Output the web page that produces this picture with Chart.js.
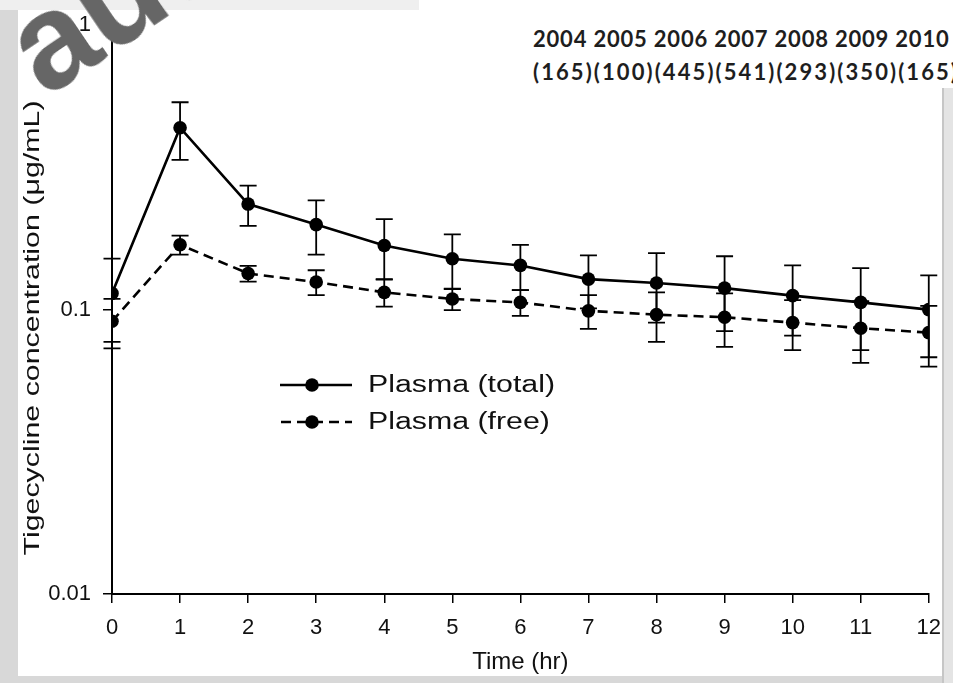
<!DOCTYPE html>
<html>
<head>
<meta charset="utf-8">
<script src="https://cdn.jsdelivr.net/npm/chart.js@4.4.1/dist/chart.umd.min.js"></script>
<style>
    html, body { margin: 0; padding: 0; }
    body { width: 953px; height: 683px; position: relative; overflow: hidden; background: #d8d8d8; }
    #paper { position: absolute; left: 18px; top: 10px; width: 924px; height: 666px; background: #fff; }
    #topband { position: absolute; left: 0; top: 0; width: 419px; height: 10px; background: #efefef; }
    #rightstrip { position: absolute; left: 942px; top: 0; width: 11px; height: 683px; background: #e4e4e4; border-left: 2px solid #c6c6c6; box-sizing: border-box; }
    #chartbox { position: absolute; left: 0; top: 0; width: 953px; height: 683px; }
    #overlay { position: absolute; left: 419px; top: 0; width: 534px; height: 88px; background: #fff; overflow: hidden;
               font-family: Lato, "Open Sans", sans-serif; font-weight: bold; font-size: 22px; color: #1e1e1e; }
    #overlay .row { position: absolute; left: 114px; white-space: nowrap; }
    #watermark { position: absolute; left: 0; top: 0; transform-origin: 0 0; transform: translate(50px, 105px) rotate(-34deg) translateY(-0.9em);
                 font-family: "Liberation Sans", Arial, sans-serif; font-weight: bold; font-size: 135px; line-height: 1;
                 color: #666; white-space: nowrap; }
</style>
</head>
<body>
<div id="paper"></div>
<div id="topband"></div>
<div id="rightstrip"></div>
<div id="chartbox"><canvas id="pkChart" width="953" height="683"></canvas></div>
<div id="overlay">
    <div class="row" style="top:25px; letter-spacing: 0.8px; word-spacing: 0px;">2004 2005 2006 2007 2008 2009 2010</div>
    <div class="row" style="top:58px; letter-spacing: 2.1px;">(165)(100)(445)(541)(293)(350)(165)</div>
</div>
<div id="watermark">authorized</div>

<script>
// sampling times (hr)
const hours = [0, 1, 2, 3, 4, 5, 6, 7, 8, 9, 10, 11, 12];

// Plasma (total) mean and SD, ug/mL
const totalMean = [0.114, 0.436, 0.235, 0.199, 0.168, 0.151, 0.143, 0.128, 0.124, 0.119, 0.112, 0.106, 0.100];
const totalSD   = [0.037, 0.100, 0.038, 0.043, 0.040, 0.033, 0.026, 0.027, 0.034, 0.035, 0.031, 0.034, 0.032];

// Plasma (free) mean and SD, ug/mL
const freeMean = [0.091, 0.169, 0.134, 0.125, 0.115, 0.109, 0.106, 0.099, 0.096, 0.094, 0.090, 0.086, 0.083];
const freeSD   = [0.018, 0.013, 0.0085, 0.0125, 0.0125, 0.0095, 0.011, 0.0135, 0.019, 0.020, 0.018, 0.021, 0.020];

const yTickValues = [0.01, 0.1, 1];
const seriesLabels = ['Plasma (total)', 'Plasma (free)'];

const FONT = '"Liberation Sans", Arial, sans-serif';

function toPoints(means) {
    return hours.map((h, i) => ({ x: h, y: means[i] }));
}

// error bars drawn under the lines, through the chart scales
const errorBarPlugin = {
    id: 'errorBars',
    beforeDatasetsDraw(chart) {
        const { ctx, scales: { x, y } } = chart;
        const sds = [totalSD, freeSD];
        ctx.save();
        ctx.strokeStyle = '#000';
        ctx.lineWidth = 1.8;
        chart.data.datasets.forEach((ds, di) => {
            ds.data.forEach((p, i) => {
                const px = x.getPixelForValue(p.x);
                const top = y.getPixelForValue(p.y + sds[di][i]);
                const bot = y.getPixelForValue(p.y - sds[di][i]);
                ctx.beginPath();
                ctx.moveTo(px, top); ctx.lineTo(px, bot);
                ctx.moveTo(px - 8.5, top); ctx.lineTo(px + 8.5, top);
                ctx.moveTo(px - 8.5, bot); ctx.lineTo(px + 8.5, bot);
                ctx.stroke();
            });
        });
        ctx.restore();
    }
};

// y title and in-plot legend (the original text is stretched wide)
const decorPlugin = {
    id: 'decor',
    afterDraw(chart) {
        const { ctx } = chart;
        ctx.save();
        ctx.fillStyle = '#111';
        ctx.textBaseline = 'middle';

        // y axis title
        const yTitle = 'Tigecycline concentration (\u03bcg/mL)';
        ctx.font = '22px ' + FONT;
        const tw = ctx.measureText(yTitle).width;
        ctx.save();
        ctx.translate(33, 328);
        ctx.rotate(-Math.PI / 2);
        ctx.scale(455 / tw, 1);
        ctx.textAlign = 'center';
        ctx.fillText(yTitle, 0, 0);
        ctx.restore();

        // legend
        ctx.font = '23px ' + FONT;
        const lw = ctx.measureText(seriesLabels[0]).width;
        const stretch = 187 / lw;
        const rows = [385, 422];
        rows.forEach((ry, i) => {
            ctx.strokeStyle = '#000';
            ctx.lineWidth = 2.6;
            ctx.setLineDash(i === 0 ? [] : [10, 6]);
            ctx.beginPath();
            ctx.moveTo(i === 0 ? 280 : 281, ry);
            ctx.lineTo(352, ry);
            ctx.stroke();
            ctx.setLineDash([]);
            ctx.fillStyle = '#000';
            ctx.beginPath();
            ctx.arc(312, ry, 6.8, 0, Math.PI * 2);
            ctx.fill();
            ctx.save();
            ctx.translate(368, ry + 1);
            ctx.scale(stretch, 1);
            ctx.fillStyle = '#111';
            ctx.textAlign = 'left';
            ctx.fillText(seriesLabels[i], 0, 0);
            ctx.restore();
        });
        ctx.restore();
    }
};

const chart = new Chart(document.getElementById('pkChart'), {
    type: 'line',
    data: {
        datasets: [
            {
                label: seriesLabels[0],
                data: toPoints(totalMean),
                borderColor: '#000',
                backgroundColor: '#000',
                borderWidth: 2.6,
                pointRadius: 6.8,
                pointHoverRadius: 6.8,
                pointBorderWidth: 0,
                tension: 0
            },
            {
                label: seriesLabels[1],
                data: toPoints(freeMean),
                borderColor: '#000',
                backgroundColor: '#000',
                borderWidth: 2.6,
                borderDash: [10, 6],
                pointRadius: 6.8,
                pointHoverRadius: 6.8,
                pointBorderWidth: 0,
                tension: 0
            }
        ]
    },
    options: {
        responsive: false,
        animation: false,
        layout: { padding: { left: 0, top: 20, right: 21, bottom: 0 } },
        plugins: {
            legend: { display: false },
            tooltip: { enabled: false }
        },
        scales: {
            x: {
                type: 'linear',
                min: 0,
                max: 12,
                afterFit: (scale) => { scale.height = 89; },
                ticks: { stepSize: 1, color: '#111', padding: 12, font: { family: FONT, size: 22 } },
                grid: { display: true, drawOnChartArea: false, drawTicks: true, tickLength: 9, color: '#000', lineWidth: 1.5 },
                border: { display: true, color: '#000', width: 2 },
                title: { display: true, text: 'Time (hr)', color: '#111', font: { family: FONT, size: 24 }, padding: { top: 0, bottom: 6 } }
            },
            y: {
                type: 'logarithmic',
                min: 0.01,
                max: 1,
                afterFit: (scale) => { scale.width = 112; },
                afterBuildTicks: (scale) => { scale.ticks = yTickValues.map(v => ({ value: v })); },
                ticks: { color: '#111', padding: 12, font: { family: FONT, size: 22 }, callback: (v) => String(v) },
                grid: { display: true, drawOnChartArea: false, drawTicks: true, tickLength: 9, color: '#000', lineWidth: 1.5 },
                border: { display: true, color: '#000', width: 2 }
            }
        }
    },
    plugins: [errorBarPlugin, decorPlugin]
});
</script>
</body>
</html>
